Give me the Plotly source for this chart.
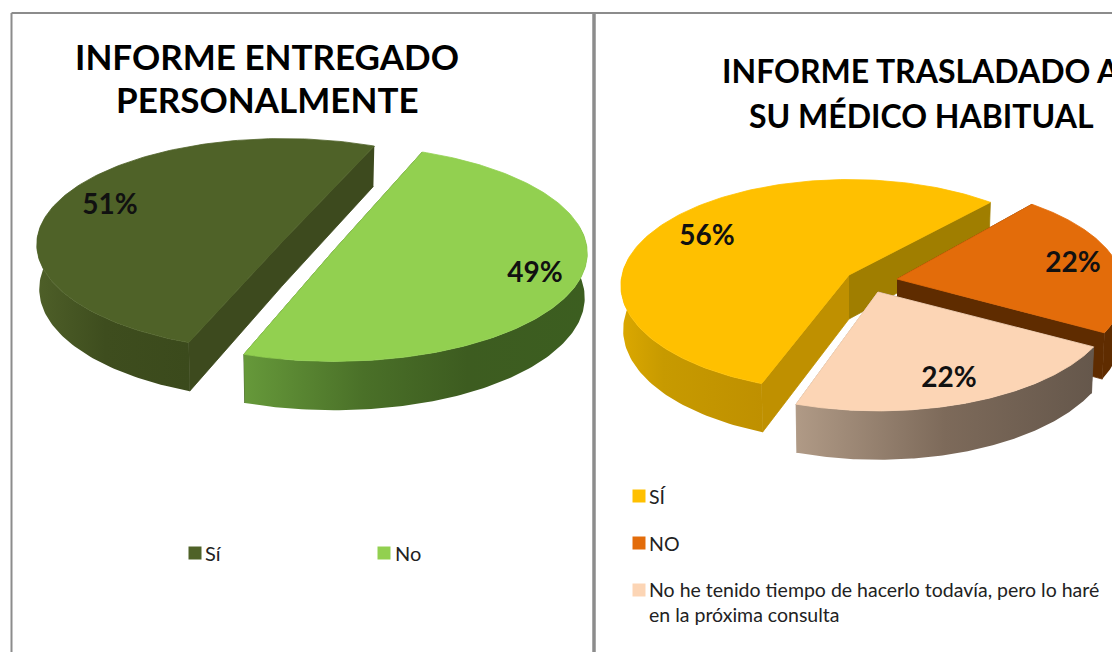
import numpy as np
import plotly.graph_objects as go

# ---------- data ----------
left_categories = ["Sí", "No"]
left_values = [51, 49]
right_categories = ["SÍ", "NO", "No he tenido tiempo de hacerlo todavía, pero lo haré<br>en la próxima consulta"]
right_values = [56, 22, 22]
left_title = ["INFORME ENTREGADO", "PERSONALMENTE"]
right_title = ["INFORME TRASLADADO A", "SU MÉDICO HABITUAL"]

# ---------- colours ----------
left_top = ["#4F6228", "#92D050"]
right_top = ["#FFC000", "#E36C0A", "#FCD5B5"]
left_rim = [[(0, "#4E5F28"), (0.45, "#3E4D1E"), (1, "#3B4A1C")],
            [(0, "#66993A"), (0.35, "#4A7028"), (0.65, "#3D5C20"), (1, "#3C5E20")]]
right_rim = [[(0, "#DBA800"), (0.3, "#C79A00"), (1, "#BF9000")],
             [(0, "#5F2C00"), (1, "#5F2C00")],
             [(0, "#B09A86"), (0.5, "#7D6A5A"), (1, "#65574B")]]
# colours of the cut faces: first = at the start angle side, second = at the end side
left_cut = [("#3D4A1E", "#3D4A1E"), ("#3D5C20", "#3D5C20")]
right_cut = [("#A07E00", "#BF9000"), ("#5F2C00", "#5F2C00"), ("#65574B", "#B09A86")]

# ---------- projection of the disc ----------
P = 0.1       # perspective strength
DEPTH = 44    # extrusion
TAPER = 0.99


def project(cx, cy, rx, ry, t):
    u, v = np.cos(t), np.sin(t)
    w = 1 + P * v
    return cx + rx * u / w, cy - ry * v / w, w


def add_face(fig, x, y, color=None, stops=None):
    kw = dict(x=list(x), y=list(y), mode="lines", fill="toself",
              hoverinfo="skip", showlegend=False)
    if stops:
        kw["fillgradient"] = dict(type="horizontal", colorscale=[[s, c] for s, c in stops])
        kw["fillcolor"] = stops[0][1]
        kw["line"] = dict(width=0)
    else:
        kw["fillcolor"] = color
        kw["line"] = dict(width=0.8, color=color)
    fig.add_trace(go.Scatter(**kw))


def add_wedge(fig, geom, t0, sweep, top, rim, cuts, apex_blend=0.0):
    """t0: start angle (deg), sweep: signed angle (deg)."""
    cx, cy, rx, ry = geom
    t = np.radians(np.linspace(t0, t0 + sweep, 160))
    x, y, w = project(cx, cy, rx, ry, t)
    # the apex may be eased towards the chord, for slices of about one half
    ax = cx + apex_blend * ((x[0] + x[-1]) / 2 - cx)
    ay = cy + apex_blend * ((y[0] + y[-1]) / 2 - cy)
    xb, yb = cx + (x - cx) * TAPER, y + DEPTH / w
    # cut faces, behind the rim
    if apex_blend > 0:
        add_face(fig, [x[0], ax, x[-1], xb[-1], ax, xb[0]],
                 [y[0], ay, y[-1], yb[-1], ay + DEPTH, yb[0]], color=cuts[0])
    else:
        for i, col in ((0, cuts[0]), (-1, cuts[1])):
            add_face(fig, [ax, x[i], xb[i], ax], [ay, y[i], yb[i], ay + DEPTH], color=col)
    # rim (only the part that faces the viewer)
    vis = np.sin(t) <= 0.16
    add_face(fig, np.r_[x[vis], xb[vis][::-1]], np.r_[y[vis], yb[vis][::-1]], stops=rim)
    # top
    add_face(fig, np.r_[ax, x, ax], np.r_[ay, y, ay], color=top)


fig = go.Figure()

# ----- left pie: each slice has its own offset centre (exploded) -----
s = [360 * v / sum(left_values) for v in left_values]
add_wedge(fig, (283, 234, 245, 105), 66, s[0], left_top[0], left_rim[0], left_cut[0], 0.8)
add_wedge(fig, (334, 242.5, 252, 107), 67.5, -s[1], left_top[1], left_rim[1], left_cut[1], 0.8)

# ----- right pie -----
s = [360 * v / sum(right_values) for v in right_values]
add_wedge(fig, (849, 275, 227, 105), 48, s[0], right_top[0], right_rim[0], right_cut[0])
add_wedge(fig, (897, 279, 226, 105), 50, -s[1], right_top[1], right_rim[1], right_cut[1])
add_wedge(fig, (878, 292, 235, 107), 50 - s[1], -s[2], right_top[2], right_rim[2], right_cut[2])

# ----- data labels -----
label_x = [110, 535, 707, 1073, 949]
label_y = [207, 275, 238, 265, 380]
label_text = [f"{v}%" for v in left_values + right_values]
fig.add_trace(go.Scatter(x=label_x, y=label_y, text=label_text, mode="text",
                         textposition="middle center", hoverinfo="skip", showlegend=False,
                         textfont=dict(family="Lato", size=28, color="#111111", weight="bold")))

# ----- legend swatches -----
fig.add_trace(go.Scatter(x=[195, 384, 639, 639, 639], y=[553, 553, 496, 543, 590], mode="markers",
                         marker=dict(symbol="square", size=13, color=left_top + right_top),
                         hoverinfo="skip", showlegend=False))

ann = []


def text(x, y, s, size, anchor="left", bold=False, color="#222222"):
    ann.append(dict(x=x, y=y, xref="x", yref="y", text=f"<b>{s}</b>" if bold else s, showarrow=False,
                    xanchor=anchor, yanchor="middle", align=anchor,
                    font=dict(family="Lato", size=size, color=color)))


text(267, 56, left_title[0], 35, "center", True, "#000000")
text(267, 99, left_title[1], 35, "center", True, "#000000")
text(921, 70, right_title[0], 32, "center", True, "#000000")
text(921, 115, right_title[1], 32, "center", True, "#000000")
text(203, 553, left_categories[0], 20)
text(393, 553, left_categories[1], 20)
text(647, 496, right_categories[0], 19.5)
text(647, 543, right_categories[1], 19.5)
text(647, 602, right_categories[2], 19.5)

frame = dict(type="line", xref="x", yref="y", line=dict(color="#8C8C8C", width=2))
shapes = [
    dict(frame, x0=11.5, x1=11.5, y0=13, y1=652),
    dict(frame, x0=11.5, x1=1112, y0=13, y1=13),
    dict(frame, x0=594, x1=594, y0=13, y1=652, line=dict(color="#8C8C8C", width=3.5)),
]

fig.update_layout(
    width=1112, height=652, margin=dict(l=0, r=0, t=0, b=0),
    paper_bgcolor="white", plot_bgcolor="white", showlegend=False,
    xaxis=dict(range=[0, 1112], visible=False, fixedrange=True),
    yaxis=dict(range=[652, 0], visible=False, fixedrange=True),
    annotations=ann, shapes=shapes,
)
fig.write_html("out.html", config={"displayModeBar": False},
               post_script="document.body.style.margin='0';document.documentElement.style.overflow='hidden';")
